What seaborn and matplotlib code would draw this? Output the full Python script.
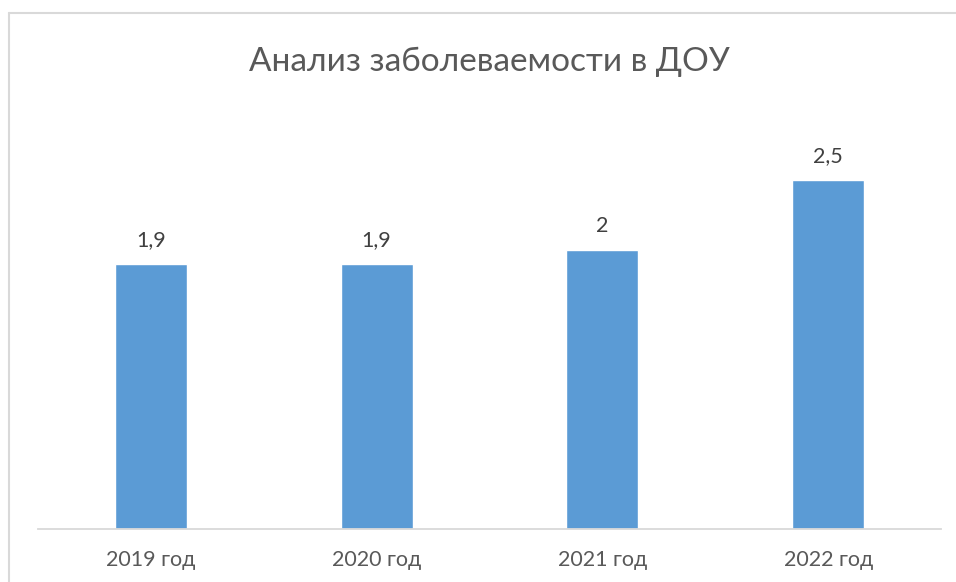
import matplotlib
matplotlib.use("Agg")
import matplotlib.pyplot as plt
import seaborn as sns
import pandas as pd
from matplotlib.lines import Line2D

# data
years = ["2019 год", "2020 год", "2021 год", "2022 год"]
values = [1.9, 1.9, 2.0, 2.5]
value_labels = ["1,9", "1,9", "2", "2,5"]

df = pd.DataFrame({"year": years, "value": values})

sns.set_style("white")
plt.rcParams["font.family"] = ["Lato", "DejaVu Sans"]

fig = plt.figure(figsize=(9.56, 5.82), dpi=100)
ax = fig.add_axes([38 / 956, 1 - 529 / 582, 903 / 956, 418.5 / 582])

sns.barplot(data=df, x="year", y="value", color="#5B9BD5", width=0.32,
            saturation=1, ax=ax)

ax.set_ylim(0, 3)
ax.set_xlim(-0.5, 3.5)
ax.set_xlabel("")
ax.set_ylabel("")
ax.set_yticks([])
for s in ["top", "right", "left"]:
    ax.spines[s].set_visible(False)
ax.spines["bottom"].set_color("#D9D9D9")
ax.spines["bottom"].set_linewidth(1.3)
ax.tick_params(axis="x", length=0, pad=15, labelsize=15.5, labelcolor="#595959")

for i, (v, lab) in enumerate(zip(values, value_labels)):
    ax.annotate(lab, (i, v), xytext=(0, 10), textcoords="offset points",
                ha="center", va="bottom", fontsize=15.5, color="#404040")

fig.suptitle("Анализ заболеваемости в ДОУ", x=0.512, y=1 - 62 / 582,
             va="center", fontsize=24, color="#595959")

# chart area border (left and top edges visible)
fig.add_artist(Line2D([9 / 956, 9 / 956], [0, 1 - 13 / 582],
                      transform=fig.transFigure, color="#D9D9D9", lw=1.5))
fig.add_artist(Line2D([9 / 956, 1], [1 - 13 / 582, 1 - 13 / 582],
                      transform=fig.transFigure, color="#D9D9D9", lw=1.5))

fig.savefig("out.png", dpi=100)
